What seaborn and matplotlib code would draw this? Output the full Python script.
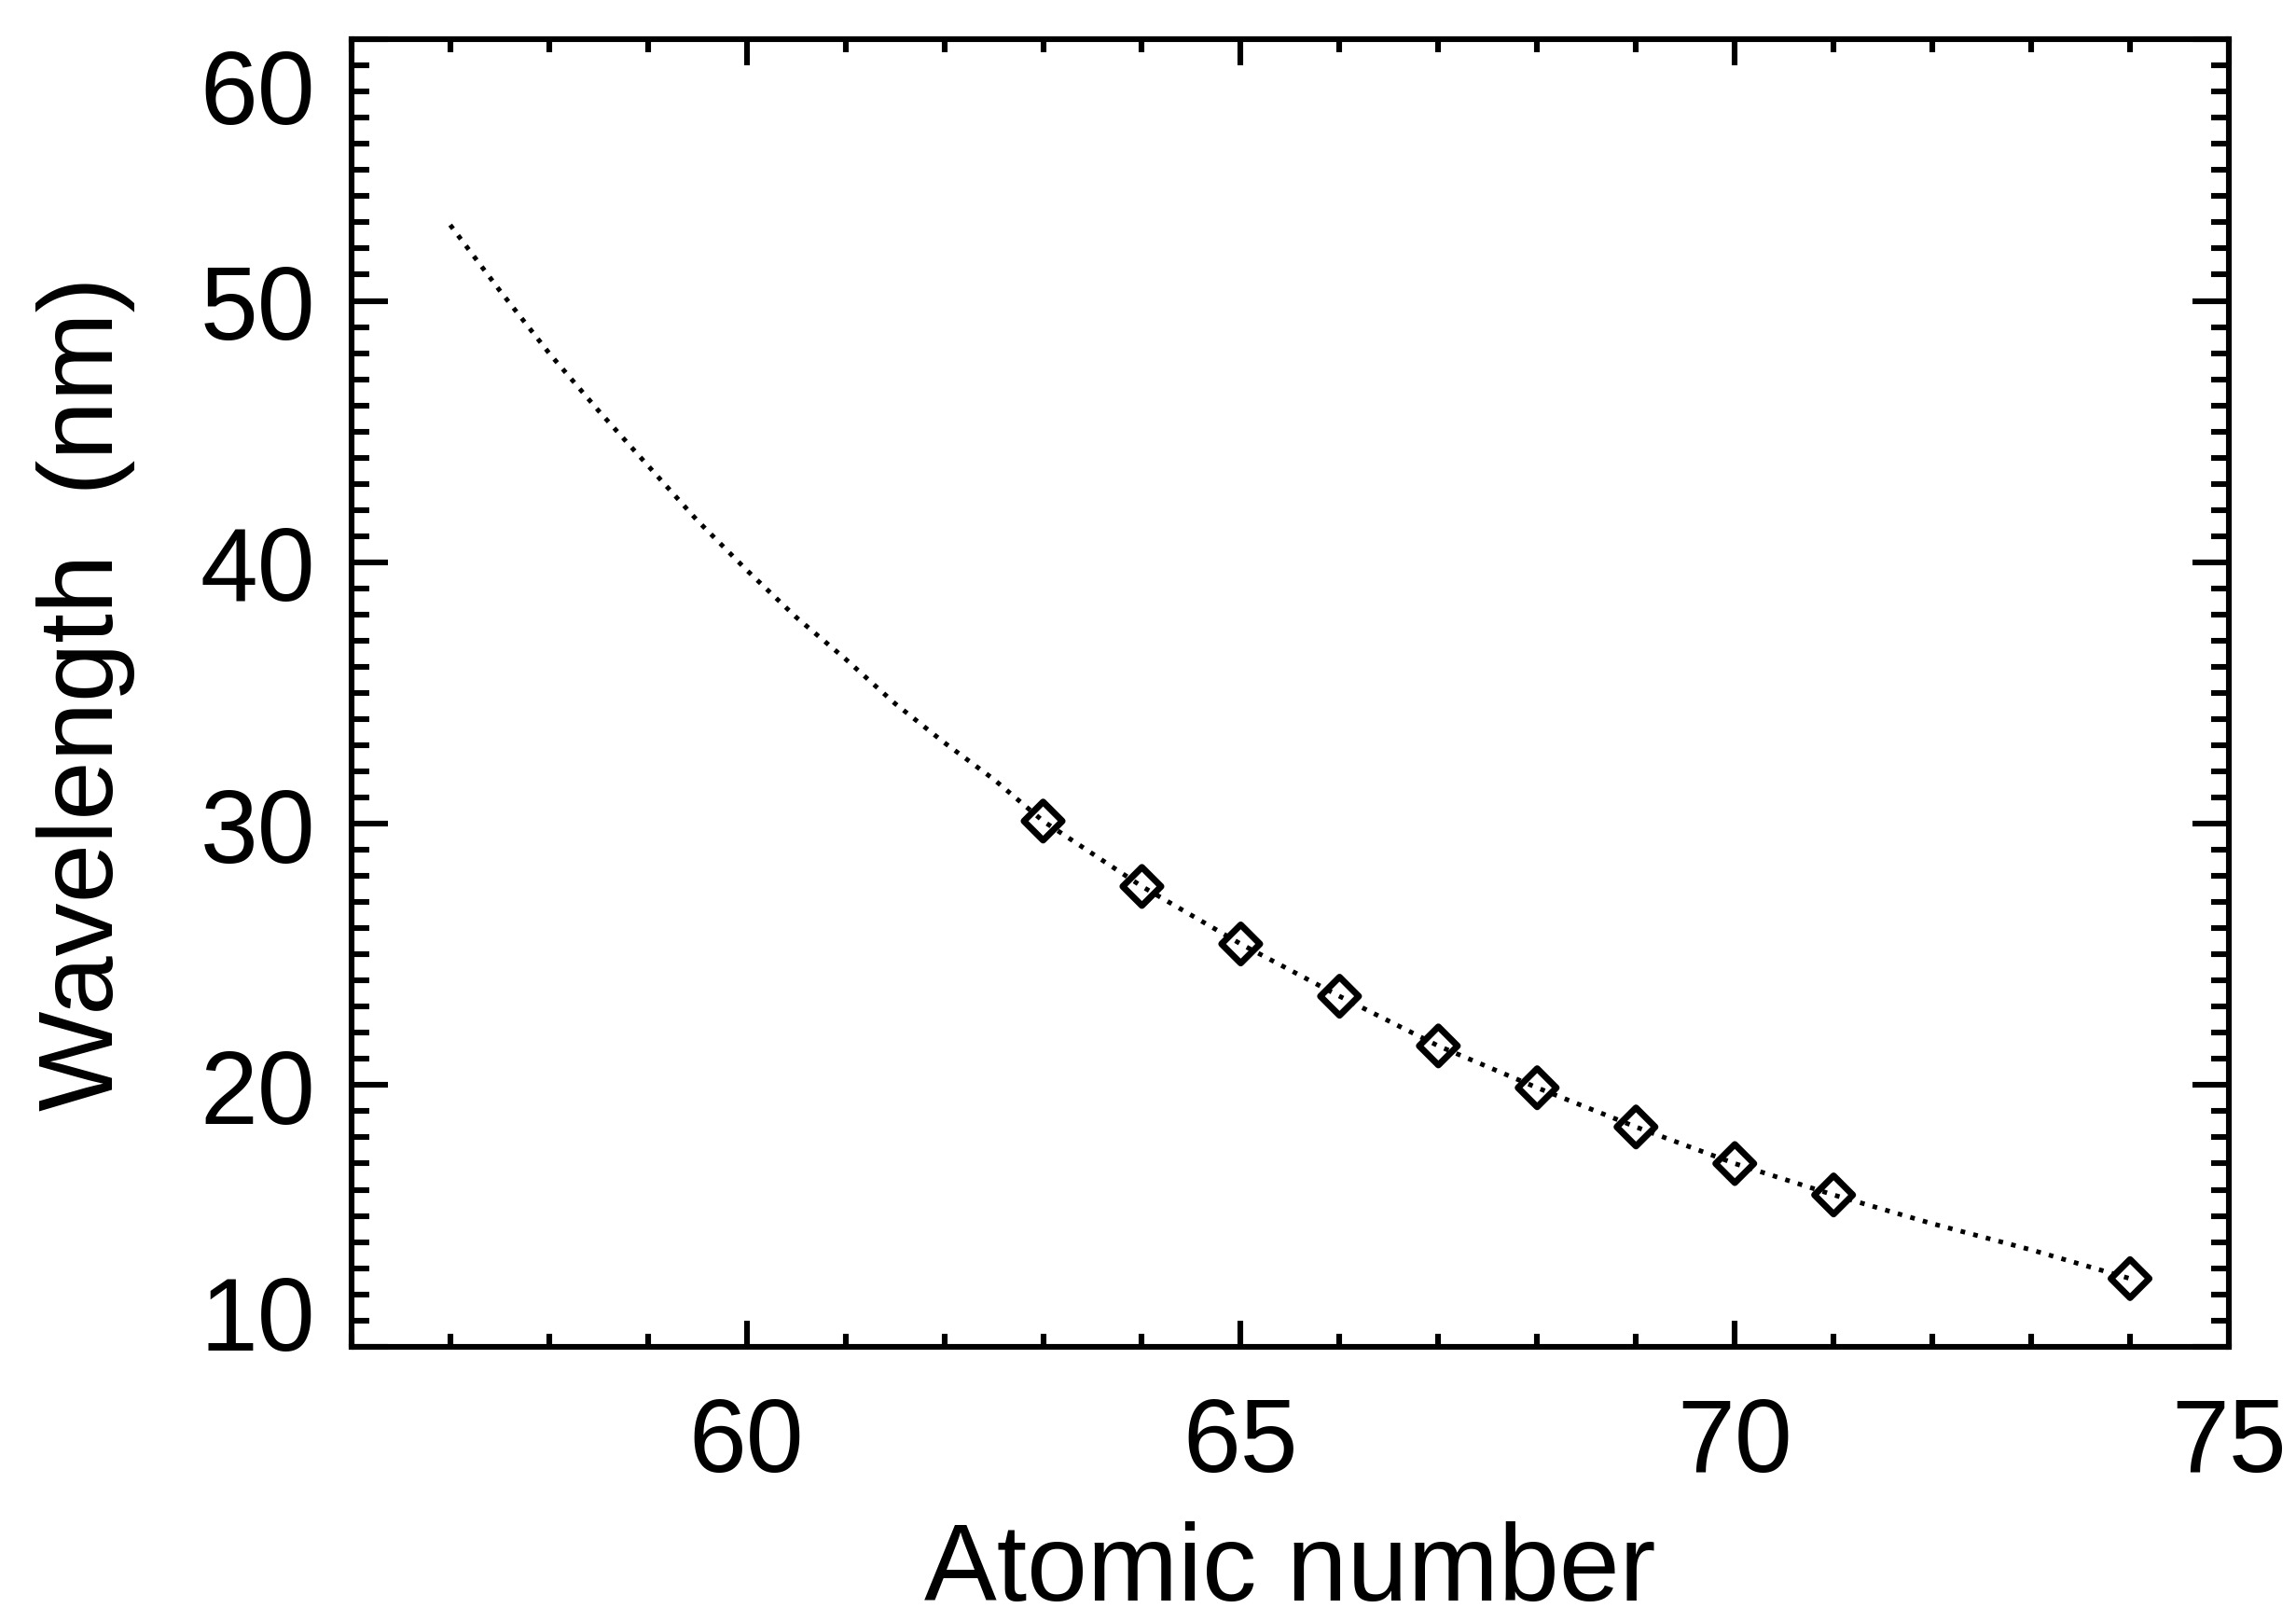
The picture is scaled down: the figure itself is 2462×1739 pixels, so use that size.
import numpy as np
import pandas as pd
import seaborn as sns
import matplotlib
matplotlib.use("Agg")
import matplotlib.pyplot as plt
from matplotlib.ticker import MultipleLocator
from matplotlib.transforms import ScaledTranslation

# fitted curve
curve_z = [57, 57.5, 58, 58.5, 59, 59.5, 60, 60.5, 61, 61.5, 62, 62.5,
           63, 64, 65, 66, 67, 68, 69, 70, 71, 72, 73, 74]
curve_wl = [52.9, 50.4, 48.0, 45.8, 43.7, 41.6, 39.7, 37.9, 36.3, 34.6, 33.1, 31.7,
            30.1, 27.6, 25.4, 23.4, 21.5, 19.9, 18.4, 17.0, 15.8, 14.7, 13.7, 12.6]

# measured points (diamonds)
point_z = [63, 64, 65, 66, 67, 68, 69, 70, 71, 74]
point_wl = [30.1, 27.6, 25.4, 23.4, 21.5, 19.9, 18.4, 17.0, 15.8, 12.6]

x_ticks = [60, 65, 70, 75]
y_ticks = [10, 20, 30, 40, 50, 60]

curve = pd.DataFrame({"z": curve_z, "wl": curve_wl})
points = pd.DataFrame({"z": point_z, "wl": point_wl})

sns.set_theme(style="ticks")
plt.rcParams["font.family"] = ["Liberation Sans", "DejaVu Sans"]

fig = plt.figure(figsize=(12.31, 8.70), dpi=200, facecolor="white")
ax = fig.add_axes([0.15305, 0.16971, 0.81771, 0.80546])

sns.lineplot(data=curve, x="z", y="wl", ax=ax, color="black", linewidth=1.8,
             linestyle=(0, (1, 1.8)), sort=False, zorder=2)
sns.scatterplot(data=points, x="z", y="wl", ax=ax, marker="D", s=110,
                facecolors="none", edgecolor="black", linewidth=2.5, zorder=3)

ax.set_xlim(56, 75)
ax.set_ylim(10, 60)
ax.set_xticks(x_ticks)
ax.set_yticks(y_ticks)
ax.xaxis.set_minor_locator(MultipleLocator(1))
ax.yaxis.set_minor_locator(MultipleLocator(1))

for s in ax.spines.values():
    s.set_linewidth(2.2)
    s.set_color("black")
ax.tick_params(which="both", direction="in", top=True, right=True,
               width=2.2, color="black", labelsize=40, labelcolor="black")
ax.tick_params(axis="x", which="major", length=10, pad=19)
ax.tick_params(axis="x", which="minor", length=5)
ax.tick_params(axis="y", which="major", length=14, pad=14)
ax.tick_params(axis="y", which="minor", length=7)

# end labels sit inside the axis range
ylabs = ax.get_yticklabels()
ylabs[-1].set_va("top")
ylabs[-1].set_transform(ylabs[-1].get_transform() + ScaledTranslation(0, -9 / 200, fig.dpi_scale_trans))
ylabs[0].set_va("baseline")
ylabs[0].set_transform(ylabs[0].get_transform() + ScaledTranslation(0, -3 / 200, fig.dpi_scale_trans))

ax.set_xlabel("Atomic number", fontsize=42, color="black")
ax.set_ylabel("Wavelength  (nm)", fontsize=41, color="black")
ax.xaxis.set_label_coords(0.5, -0.133)
ax.yaxis.set_label_coords(-0.115, 0.5)

fig.savefig("out.png", dpi=200, facecolor="white")
